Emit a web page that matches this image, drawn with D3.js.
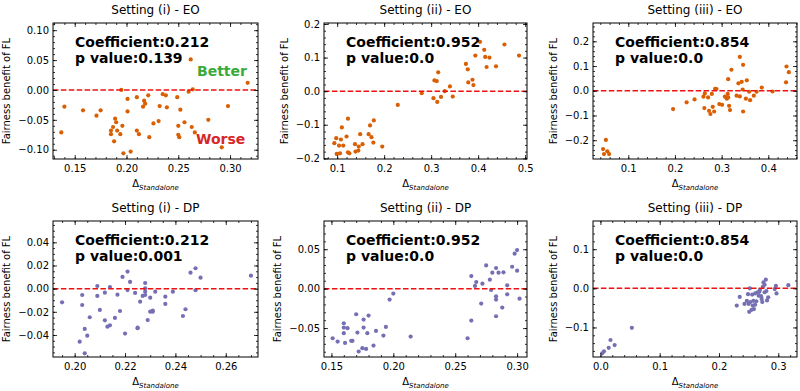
<!DOCTYPE html>
<html><head><meta charset="utf-8">
<script src="https://cdn.jsdelivr.net/npm/d3@7"></script>
<style>body{margin:0;background:#fff} svg{display:block} text{font-family:"DejaVu Sans",sans-serif}</style>
</head><body><svg id="c" width="800" height="391"></svg>
<script>
// ---------- data ----------
const titles = ["Setting (i) - EO","Setting (ii) - EO","Setting (iii) - EO","Setting (i) - DP","Setting (ii) - DP","Setting (iii) - DP"];
const coefLabels = ["Coefficient:0.212","Coefficient:0.952","Coefficient:0.854","Coefficient:0.212","Coefficient:0.952","Coefficient:0.854"];
const pLabels = ["p value:0.139","p value:0.0","p value:0.0","p value:0.001","p value:0.0","p value:0.0"];

const eo1X = [0.137,0.140,0.158,0.171,0.175,0.185,0.185,0.187,0.189,0.190,0.191,0.188,0.194,0.196,0.195,0.197,0.201,0.201,0.204,0.210,0.210,0.212,0.216,0.217,0.218,0.221,0.222,0.226,0.231,0.232,0.235,0.238,0.239,0.249,0.250,0.250,0.251,0.252,0.256,0.260,0.262,0.263,0.264,0.266,0.279,0.292,0.298,0.317];
const eo1Y = [-0.071,-0.028,-0.034,-0.043,-0.034,-0.074,-0.068,-0.062,-0.048,-0.054,-0.068,-0.086,-0.074,-0.060,0.000,-0.106,-0.015,-0.036,-0.103,-0.012,-0.068,-0.074,-0.028,-0.018,-0.023,-0.009,-0.079,-0.056,-0.052,-0.027,-0.007,-0.009,-0.029,-0.012,-0.075,-0.060,-0.079,-0.033,-0.054,-0.003,0.051,-0.062,0.001,-0.071,-0.050,-0.096,-0.027,0.012];

const eo2X = [0.094,0.098,0.099,0.104,0.106,0.108,0.110,0.113,0.120,0.123,0.123,0.126,0.138,0.139,0.145,0.146,0.149,0.154,0.167,0.170,0.173,0.177,0.178,0.196,0.229,0.280,0.305,0.307,0.312,0.313,0.315,0.321,0.329,0.340,0.346,0.374,0.378,0.379,0.388,0.390,0.394,0.404,0.413,0.415,0.418,0.424,0.438,0.456,0.487];
const eo2Y = [-0.155,-0.140,-0.187,-0.162,-0.185,-0.144,-0.108,-0.162,-0.135,-0.082,-0.182,-0.185,-0.158,-0.180,-0.177,-0.165,-0.128,-0.158,-0.128,-0.102,-0.137,-0.153,-0.087,-0.165,-0.041,-0.006,-0.021,0.032,0.030,-0.032,0.056,-0.017,0.000,0.014,-0.016,0.081,0.065,0.026,0.034,0.018,0.106,0.147,0.123,0.102,0.072,0.100,0.074,0.139,0.106];

const eo3X = [0.046,0.048,0.052,0.055,0.059,0.196,0.225,0.242,0.261,0.263,0.264,0.271,0.273,0.276,0.279,0.281,0.284,0.286,0.289,0.295,0.301,0.307,0.311,0.313,0.314,0.314,0.316,0.318,0.321,0.332,0.336,0.339,0.339,0.343,0.345,0.346,0.346,0.352,0.354,0.359,0.361,0.369,0.375,0.386,0.409,0.438,0.439,0.444];
const eo3Y = [-0.236,-0.256,-0.199,-0.245,-0.256,-0.074,-0.047,-0.035,-0.024,-0.070,-0.011,-0.027,-0.081,-0.094,-0.013,-0.065,-0.084,0.008,0.007,-0.054,-0.057,-0.024,-0.032,-0.013,-0.027,0.047,-0.061,-0.078,0.085,-0.020,0.030,-0.023,0.137,0.036,0.005,-0.084,0.105,-0.032,0.042,-0.004,-0.038,-0.020,-0.004,0.013,-0.003,0.034,0.098,0.075];

const dp1X = [0.195,0.202,0.203,0.203,0.204,0.204,0.205,0.206,0.209,0.209,0.210,0.212,0.212,0.213,0.214,0.214,0.216,0.217,0.218,0.219,0.220,0.221,0.221,0.222,0.224,0.225,0.225,0.226,0.227,0.228,0.228,0.228,0.228,0.229,0.230,0.230,0.231,0.231,0.232,0.236,0.236,0.239,0.243,0.244,0.246,0.248,0.248,0.250,0.270];
const dp1Y = [-0.0118,-0.0458,-0.0055,-0.0141,-0.0348,-0.0558,-0.0406,-0.0247,0.0023,-0.0063,-0.0184,-0.0035,-0.0273,-0.0328,0.0014,-0.0317,-0.0253,-0.0052,-0.0193,0.0101,-0.0388,0.0147,-0.0012,0.0058,-0.0037,-0.0342,-0.0337,-0.0112,-0.0063,0.0049,-0.0026,0.0003,-0.0055,-0.0271,-0.0078,-0.0199,-0.0190,-0.0199,-0.0026,-0.0069,-0.0132,-0.0026,-0.0236,-0.0178,0.0138,0.0176,-0.0014,0.0095,0.0112];

const dp2X = [0.151,0.155,0.160,0.160,0.160,0.161,0.163,0.166,0.167,0.170,0.171,0.172,0.175,0.176,0.176,0.178,0.179,0.180,0.184,0.186,0.192,0.194,0.197,0.200,0.214,0.260,0.263,0.263,0.266,0.267,0.271,0.272,0.275,0.278,0.279,0.280,0.283,0.283,0.283,0.283,0.285,0.288,0.289,0.292,0.292,0.296,0.298,0.300,0.300,0.302];
const dp2Y = [-0.0629,-0.0671,-0.0439,-0.0494,-0.0565,-0.0688,-0.0502,-0.0662,-0.0662,-0.0325,-0.0557,-0.0797,-0.0755,-0.0494,-0.0392,-0.0764,-0.0565,-0.0342,-0.0722,-0.0536,-0.0595,-0.0485,-0.0139,-0.0063,-0.0608,-0.0629,-0.0405,0.016,0.0034,0.0084,-0.019,0.0063,0.0295,0.0114,-0.0017,0.0203,0.0262,-0.0139,-0.0097,-0.035,0.0203,-0.024,0.0207,0.0042,-0.0072,0.0278,0.0443,0.0228,0.0489,-0.0127];

const dp3X = [0.003,0.006,0.014,0.017,0.024,0.053,0.230,0.235,0.243,0.247,0.249,0.250,0.251,0.252,0.253,0.255,0.256,0.257,0.258,0.259,0.261,0.261,0.263,0.265,0.267,0.268,0.269,0.271,0.272,0.273,0.274,0.275,0.277,0.277,0.279,0.280,0.281,0.283,0.294,0.296,0.297,0.317];
const dp3Y = [-0.166,-0.161,-0.152,-0.132,-0.145,-0.101,-0.044,-0.022,-0.040,-0.032,-0.015,-0.040,-0.060,0.000,-0.035,-0.055,-0.016,-0.044,-0.032,-0.053,-0.013,-0.042,-0.033,-0.010,-0.019,-0.009,-0.004,-0.020,-0.027,-0.035,0.004,0.015,-0.010,0.009,0.022,-0.007,-0.031,-0.023,-0.002,0.006,-0.013,0.008];

// tick labels
const xTicks = [[0.15,0.20,0.25,0.30],[0.1,0.2,0.3,0.4,0.5],[0.1,0.2,0.3,0.4],[0.20,0.22,0.24,0.26],[0.15,0.20,0.25,0.30],[0.0,0.1,0.2,0.3]];
const yTicks = [[-0.10,-0.05,0.00,0.05,0.10],[-0.2,-0.1,0.0,0.1,0.2],[-0.2,-0.1,0.0,0.1,0.2],[-0.04,-0.02,0.00,0.02,0.04],[-0.05,0.00,0.05],[-0.1,0.0,0.1]];
const xFormats = [".2f",".1f",".1f",".2f",".2f",".1f"];
const yFormats = [".2f",".1f",".1f",".2f",".2f",".1f"];
const xMinorStep = [0.01,0.02,0.02,0.005,0.01,0.02];
const yMinorStep = [0.01,0.02,0.02,0.005,0.01,0.02];
// axis limits
const xLims = [[0.129,0.327],[0.072,0.504],[0.0244,0.4615],[0.1914,0.2728],[0.144,0.308],[-0.0125,0.3316]];
const yLims = [[-0.1155,0.112],[-0.202,0.203],[-0.276,0.274],[-0.059,0.0584],[-0.0867,0.0858],[-0.1755,0.172]];

const seriesX = [eo1X,eo2X,eo3X,dp1X,dp2X,dp3X];
const seriesY = [eo1Y,eo2Y,eo3Y,dp1Y,dp2Y,dp3Y];
const colors = ["#d95f02","#d95f02","#d95f02","#7570b3","#7570b3","#7570b3"];

// ---------- layout ----------
const cols = [[53,258],[324,527],[593,797]];
const rows = [[23,159],[221,357]];

const svg = d3.select("#c");

function minorVals(lim, step){
  const a = Math.ceil(lim[0]/step - 1e-9), b = Math.floor(lim[1]/step + 1e-9);
  return d3.range(a, b+1).map(k => +(k*step).toFixed(6));
}

titles.forEach((title, i) => {
  const [x0,x1] = cols[i%3], [y0,y1] = rows[Math.floor(i/3)];
  const x = d3.scaleLinear().domain(xLims[i]).range([x0,x1]);
  const y = d3.scaleLinear().domain(yLims[i]).range([y1,y0]);
  const g = svg.append("g");

  const pts = seriesX[i].map((v,k) => ({x:v, y:seriesY[i][k]}));
  g.append("g").selectAll("circle").data(pts).join("circle")
    .attr("cx", d => x(d.x)).attr("cy", d => y(d.y)).attr("r", 2.1)
    .attr("fill", colors[i]);

  g.append("line").attr("x1", x0).attr("x2", x1).attr("y1", y(0)).attr("y2", y(0))
    .attr("stroke", "#ee1111").attr("stroke-width", 1.5).attr("stroke-dasharray", "5.5,2.4");

  const fx = d3.format(xFormats[i]), fy = d3.format(yFormats[i]);
  const xm = minorVals(xLims[i], xMinorStep[i]), ym = minorVals(yLims[i], yMinorStep[i]);

  const style = sel => { sel.select(".domain").remove(); sel.selectAll("line").attr("stroke","#000").attr("stroke-width",0.8);
    sel.selectAll("text").attr("font-size",10).attr("fill","#000").attr("font-family","DejaVu Sans"); };

  g.append("g").attr("transform",`translate(0,${y1})`).call(d3.axisBottom(x).tickValues(xm).tickFormat("").tickSizeInner(-2).tickSizeOuter(0)).call(style);
  g.append("g").attr("transform",`translate(0,${y0})`).call(d3.axisTop(x).tickValues(xm).tickFormat("").tickSizeInner(-2).tickSizeOuter(0)).call(style);
  g.append("g").attr("transform",`translate(${x0},0)`).call(d3.axisLeft(y).tickValues(ym).tickFormat("").tickSizeInner(-2).tickSizeOuter(0)).call(style);
  g.append("g").attr("transform",`translate(${x1},0)`).call(d3.axisRight(y).tickValues(ym).tickFormat("").tickSizeInner(-2).tickSizeOuter(0)).call(style);

  g.append("g").attr("transform",`translate(0,${y1})`).call(d3.axisBottom(x).tickValues(xTicks[i]).tickFormat(fx).tickSizeInner(-4).tickSizeOuter(0).tickPadding(6)).call(style);
  g.append("g").attr("transform",`translate(0,${y0})`).call(d3.axisTop(x).tickValues(xTicks[i]).tickFormat("").tickSizeInner(-4).tickSizeOuter(0)).call(style);
  const ya = g.append("g").attr("transform",`translate(${x0},0)`).call(d3.axisLeft(y).tickValues(yTicks[i]).tickFormat(fy).tickSizeInner(-4).tickSizeOuter(0).tickPadding(4)).call(style);
  g.append("g").attr("transform",`translate(${x1},0)`).call(d3.axisRight(y).tickValues(yTicks[i]).tickFormat("").tickSizeInner(-4).tickSizeOuter(0)).call(style);

  g.append("rect").attr("x",x0).attr("y",y0).attr("width",x1-x0).attr("height",y1-y0)
    .attr("fill","none").attr("stroke","#000").attr("stroke-width",1);

  // title
  g.append("text").attr("x",(x0+x1)/2).attr("y",y0-9).attr("text-anchor","middle")
    .attr("font-size",12).attr("fill","#000").text(title);

  // annotations
  g.append("text").attr("x",x0+22).attr("y",y0+24).attr("font-size",14).attr("font-weight","bold").attr("fill","#000").text(coefLabels[i]);
  g.append("text").attr("x",x0+22).attr("y",y0+40).attr("font-size",14).attr("font-weight","bold").attr("fill","#000").text(pLabels[i]);

  // x label
  const xl = g.append("text").attr("x",(x0+x1)/2).attr("y",y1+28).attr("text-anchor","middle").attr("fill","#000");
  xl.append("tspan").attr("font-size",10).text("Δ");
  xl.append("tspan").attr("font-size",7).attr("font-style","italic").attr("dy",2.5).text("Standalone");

  // y label
  const bb = ya.node().getBBox();
  const lx = x0 + bb.x - 8;
  g.append("text").attr("transform",`translate(${lx},${(y0+y1)/2}) rotate(-90)`)
    .attr("text-anchor","middle").attr("font-size",10).attr("fill","#000").text("Fairness benefit of FL");

  if (i === 0) {
    g.append("text").attr("x",x0+144).attr("y",y0+53).attr("font-size",14).attr("font-weight","bold").attr("fill","#3aaa3a").text("Better");
    g.append("text").attr("x",x0+143).attr("y",y0+121).attr("font-size",14).attr("font-weight","bold").attr("fill","#d62728").text("Worse");
  }
});
</script>
</body></html>
